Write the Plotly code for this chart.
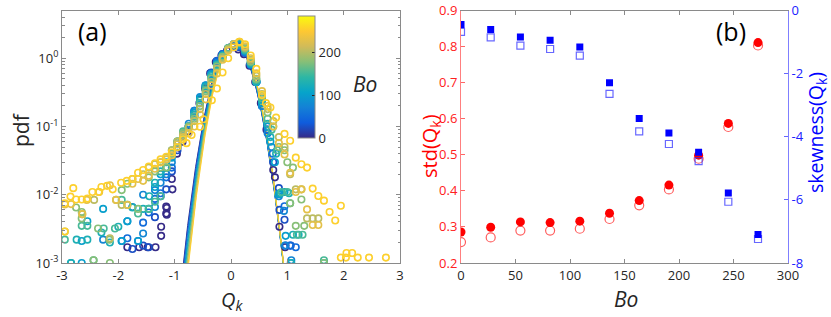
import plotly.graph_objects as go
from plotly.colors import sample_colorscale
import numpy as np

# ---------------- data ----------------
bo_values = [0, 27.25, 54.5, 81.75, 109, 136.25, 163.5, 190.75, 218, 245.25, 272.5]

std_filled = [0.286, 0.299, 0.314, 0.312, 0.316, 0.338, 0.373, 0.416, 0.499, 0.587, 0.811]
std_open = [0.258, 0.271, 0.290, 0.290, 0.295, 0.322, 0.360, 0.404, 0.489, 0.577, 0.803]
skew_filled = [-0.44, -0.60, -0.84, -0.94, -1.16, -2.29, -3.42, -3.88, -4.49, -5.78, -7.10]
skew_open = [-0.68, -0.85, -1.11, -1.22, -1.43, -2.64, -3.83, -4.23, -4.77, -6.06, -7.24]

# Gaussian fit parameters per Bo (mean, std) used for the solid curves of panel (a)
fit_mean = [0.040, 0.045, 0.050, 0.055, 0.060, 0.065, 0.070, 0.075, 0.080, 0.085, 0.090]
fit_sigma = [0.230, 0.229, 0.228, 0.226, 0.225, 0.224, 0.222, 0.221, 0.220, 0.218, 0.217]

# pdf points of Q_k, one list per Bo
q_bo0 = [-1.84, -1.63, -1.48, -1.34, -1.24, -1.24, -1.15, -1.15, -1.14, -1.14, -1.04, -1.05,
         -0.96, -0.86, -0.76, -0.65, -0.56, -0.46, -0.37, -0.27, -0.17, -0.07, 0.03, 0.13, 0.23,
         0.33, 0.43, 0.53, 0.63, 0.75, 0.78, 0.86, 0.96]
p_bo0 = [.0017, .0017, .0017, .0017, .0025, .0034, .0053, .0067, .0064, .0051, .012, .017,
         .04, .06, .085, .14, .22, .36, .6, .88, 1.1, 1.3, 1.45, 1.35, 1.15,
         .78, .45, .22, .09, .023, .018, .0034, .0017]

q_bo27 = [-1.75, -1.56, -1.46, -1.35, -1.25, -1.15, -1.05,
          -0.95, -0.85, -0.75, -0.65, -0.55, -0.45, -0.35, -0.25, -0.15, -0.05, 0.05, 0.15,
          0.25, 0.35, 0.45, 0.55, 0.65, 0.75, 0.85, 0.86, 0.95, 0.97, 1.06]
p_bo27 = [.0016, .0018, .0017, .0047, .0095, .012, .022,
          .045, .07, .1, .16, .25, .38, .62, .92, 1.15, 1.35, 1.5, 1.45,
          1.2, .8, .45, .22, .1, .03, .0125, .006, .0043, .0018, .0018]

q_bo55 = [-1.84, -1.65, -1.56, -1.46, -1.35, -1.25, -1.15, -1.05,
          -0.95, -0.85, -0.75, -0.65, -0.55, -0.45, -0.35, -0.25, -0.15, -0.05, 0.05, 0.15,
          0.25, 0.35, 0.45, 0.55, 0.65, 0.74, 0.86, 0.95, 1.05, 1.15]
p_bo55 = [.0023, .0021, .0039, .0055, .0087, .0105, .018, .025,
          .05, .07, .1, .17, .26, .4, .6, .9, 1.15, 1.4, 1.55, 1.5,
          1.2, .8, .45, .2, .09, .04, .0105, .0068, .0018, .0017]

q_bo82 = [-2.27, -1.94, -1.84, -1.75, -1.56, -1.56, -1.35, -1.35, -1.25, -1.15, -1.05,
          -0.95, -0.85, -0.75, -0.65, -0.55, -0.45, -0.35, -0.25, -0.15, -0.05, 0.05, 0.15,
          0.25, 0.35, 0.45, 0.55, 0.65, 0.72, 0.85, 0.94, 0.96, 1.07]
p_bo82 = [.0022, .0021, .0041, .0066, .0027, .01, .0066, .0117, .015, .02, .03,
          .05, .075, .11, .17, .27, .4, .58, .85, 1.1, 1.4, 1.6, 1.55,
          1.25, .82, .45, .2, .08, .05, .0095, .0058, .0018, .0011]

q_bo109 = [-2.84, -2.65, -2.65, -2.55, -2.27, -1.94, -1.84, -1.65, -1.46, -1.35, -1.25, -1.15, -1.05,
           -0.95, -0.85, -0.75, -0.65, -0.55, -0.45, -0.35, -0.25, -0.15, -0.05, 0.05, 0.15,
           0.25, 0.35, 0.45, 0.55, 0.65, 0.70, 0.78, 0.85, 0.95, 0.97, 1.07]
p_bo109 = [.001, .001, .0021, .0041, .0062, .0021, .0041, .0021, .0062, .013, .02, .025, .035,
           .055, .075, .1, .16, .26, .4, .58, .82, 1.1, 1.4, 1.6, 1.6,
           1.3, .82, .45, .22, .1, .06, .03, .0102, .011, .0025, .001]

q_bo136 = [-2.84, -2.74, -2.55, -2.30, -2.15, -2.00, -1.75, -1.56, -1.45, -1.35, -1.25, -1.15, -1.05,
           -0.95, -0.85, -0.75, -0.65, -0.55, -0.45, -0.35, -0.25, -0.15, -0.05, 0.05, 0.15,
           0.25, 0.35, 0.45, 0.55, 0.65, 0.70, 0.80, 0.88, 1.03, 1.06, 1.10, 1.20, 1.65]
p_bo136 = [.001, .0022, .0022, .0028, .002, .0034, .0065, .0062, .0095, .015, .022, .03, .04,
           .06, .08, .1, .15, .24, .38, .55, .8, 1.1, 1.4, 1.6, 1.65,
           1.3, .85, .45, .24, .11, .07, .04, .0105, .0105, .001, .0026, .0026, .001]

q_bo164 = [-2.95, -2.65, -2.55, -2.44, -2.26, -2.06, -1.94, -1.84, -1.65, -1.46, -1.35, -1.25, -1.15, -1.05,
           -0.95, -0.85, -0.75, -0.65, -0.55, -0.45, -0.35, -0.25, -0.15, -0.05, 0.05, 0.15,
           0.25, 0.35, 0.45, 0.55, 0.65, 0.72, 0.82, 0.90, 1.00, 1.05, 1.17, 1.27, 1.65]
p_bo164 = [.0022, .0035, .0035, .0011, .0032, .0032, .0084, .0071, .0053, .0062, .0079, .0095, .025, .045,
           .06, .085, .1, .14, .22, .35, .52, .78, 1.05, 1.4, 1.6, 1.7,
           1.35, .88, .48, .26, .13, .09, .045, .011, .011, .0075, .0026, .0026, .0011]

q_bo191 = [-2.75, -2.65, -2.65, -2.44, -2.36, -2.16, -2.15, -1.94, -1.84, -1.65, -1.46, -1.35, -1.25, -1.14, -1.05,
           -0.95, -0.85, -0.75, -0.65, -0.55, -0.45, -0.35, -0.25, -0.15, -0.05, 0.05, 0.15,
           0.25, 0.35, 0.45, 0.55, 0.65, 0.75, 0.85, 0.95, 1.00, 1.10, 1.25, 1.05, 1.15, 1.30, 1.65]
p_bo191 = [.0065, .0056, .0045, .0011, .0032, .0022, .001, .0117, .0145, .0062, .018, .022, .025, .025, .04,
           .06, .08, .1, .13, .2, .33, .5, .75, 1.05, 1.4, 1.6, 1.7,
           1.4, .9, .5, .28, .16, .1, .05, .045, .03, .025, .0085, .0075, .0035, .0035, .001]

q_bo218 = [-2.95, -2.64, -2.43, -2.15, -2.04, -1.94, -1.75, -1.56, -1.46, -1.35, -1.25, -1.15, -1.05,
           -0.95, -0.85, -0.75, -0.65, -0.55, -0.45, -0.35, -0.25, -0.15, -0.05, 0.05, 0.15,
           0.25, 0.35, 0.45, 0.55, 0.65, 0.75, 0.85, 0.95, 1.05, 1.15, 1.25, 1.35, 1.45, 1.55]
p_bo218 = [.0029, .0052, .0084, .0023, .0084, .0071, .017, .02, .025, .028, .03, .035, .045,
           .06, .075, .095, .12, .18, .3, .45, .7, 1.0, 1.35, 1.6, 1.7,
           1.45, .95, .55, .3, .18, .12, .07, .05, .02, .012, .012, .0045, .0045, .0045]

q_bo245 = [-2.95, -2.84, -2.64, -2.56, -2.34, -2.15, -2.04, -1.84, -1.75, -1.65, -1.56, -1.46, -1.35, -1.25, -1.14, -1.05,
           -0.95, -0.85, -0.75, -0.65, -0.55, -0.45, -0.35, -0.25, -0.15, -0.05, 0.05, 0.15,
           0.25, 0.35, 0.45, 0.55, 0.65, 0.75, 0.85, 0.95, 1.05, 1.15, 1.25, 1.35, 1.45, 1.55]
p_bo245 = [.0072, .0073, .0052, .0084, .011, .0138, .0084, .0071, .0145, .017, .016, .019, .024, .03, .033, .038,
           .055, .07, .08, .1, .15, .25, .4, .6, .95, 1.3, 1.6, 1.75,
           1.5, 1.0, .6, .33, .2, .1, .057, .039, .021, .011, .012, .0061, .0036, .0036]

q_bo273 = [-2.95, -2.95, -2.85, -2.80, -2.75, -2.65, -2.55, -2.46, -2.35, -2.30, -2.20, -2.10, -1.95, -1.85,
           -1.75, -1.65, -1.56, -1.46, -1.35, -1.25, -1.15, -1.05, -0.95, -0.85,
           -0.79, -0.70, -0.55, -0.49, -0.34, -0.25, -0.15, -0.05, 0.05, 0.15, 0.25, 0.35, 0.45, 0.55,
           0.62, 0.70, 0.80, 0.95, 1.05, 1.15, 1.25, 1.35, 1.45, 1.55, 1.65, 1.75, 1.85, 1.95,
           1.95, 2.04, 2.05, 2.15, 2.25, 2.45, 2.75]
p_bo273 = [.0029, .0075, .0094, .0125, .0085, .0085, .0088, .011, .011, .013, .0135, .012, .015, .016,
           .017, .021, .023, .026, .029, .033, .036, .042, .05, .065,
           .057, .075, .099, .128, .243, .36, .62, 1.0, 1.45, 1.75, 1.6, 1.1, .7, .29,
           .22, .19, .135, .078, .062, .035, .028, .025, .0123, .0096, .0082, .0056, .0042, .0069,
           .0012, .0012, .0014, .0014, .0012, .0012, .0012]

q_lists = [q_bo0, q_bo27, q_bo55, q_bo82, q_bo109, q_bo136, q_bo164, q_bo191, q_bo218, q_bo245, q_bo273]
p_lists = [p_bo0, p_bo27, p_bo55, p_bo82, p_bo109, p_bo136, p_bo164, p_bo191, p_bo218, p_bo245, p_bo273]

x_ticks_a = [-3, -2, -1, 0, 1, 2, 3]
y_ticks_a = [1e-3, 1e-2, 1e-1, 1]
y_ticktext_a = ["10<sup>-3</sup>", "10<sup>-2</sup>", "10<sup>-1</sup>", "10<sup>0</sup>"]
skew_ticks = [-8, -6, -4, -2, 0]
cbar_ticks = [0, 100, 200]

# ---------------- styling ----------------
W, H = 831, 317
FONT = "Open Sans"
TICK = 13
parula = [[0, "#352A87"], [0.125, "#0F5CDD"], [0.25, "#1481D6"], [0.375, "#06A4CA"],
          [0.5, "#2EB7A4"], [0.625, "#87BF77"], [0.75, "#D1BB59"], [0.875, "#FEC832"],
          [1, "#F9FB0E"]]
CMAX_BAR = 284      # colour bar span
CMAX_PTS = 305      # colour normalisation of the markers/curves
AXC = "#8a8a8a"
TXT = "#262626"


def px(x):
    return x / W


def py(y):
    return 1 - y / H


def bo_color(bo):
    return sample_colorscale(parula, [min(bo / CMAX_PTS, 1.0)])[0]


fig = go.Figure()

# Gaussian fit curves (drawn beneath the markers)
xg = np.linspace(-0.95, 1.0, 400)
for bo, mu, sg in zip(bo_values, fit_mean, fit_sigma):
    yg = np.exp(-(xg - mu) ** 2 / (2 * sg ** 2)) / (sg * np.sqrt(2 * np.pi))
    fig.add_trace(go.Scatter(x=xg, y=yg, mode="lines", xaxis="x", yaxis="y",
                             line=dict(color=bo_color(bo), width=1), showlegend=False))

# scatter points of panel (a), one trace per Bo
for bo, qs, ps in zip(bo_values, q_lists, p_lists):
    fig.add_trace(go.Scatter(
        x=qs, y=ps, mode="markers", xaxis="x", yaxis="y", showlegend=False,
        marker=dict(symbol="circle-open", size=6.5, color=bo_color(bo), line=dict(width=1.6))))

# colour bar (carrier trace without visible marks)
fig.add_trace(go.Scatter(
    x=[None], y=[None], mode="markers", xaxis="x", yaxis="y", showlegend=False,
    marker=dict(color=[0], colorscale=parula, cmin=0, cmax=CMAX_BAR, showscale=True,
                colorbar=dict(x=px(298), xanchor="left", xpad=0, ypad=0,
                              y=py(77), yanchor="middle", len=122 / H, lenmode="fraction",
                              thickness=17, outlinewidth=1, outlinecolor=AXC,
                              tickvals=cbar_ticks, ticks="inside", ticklen=3,
                              tickcolor=TXT,
                              tickfont=dict(family=FONT, size=TICK, color=TXT)))))

# panel (b)
fig.add_trace(go.Scatter(x=bo_values, y=std_open, mode="markers", xaxis="x2", yaxis="y2",
                         marker=dict(symbol="circle-open", size=9, color="rgba(255,40,40,0.75)",
                                     line=dict(width=1.2)), showlegend=False))
fig.add_trace(go.Scatter(x=bo_values, y=std_filled, mode="markers", xaxis="x2", yaxis="y2",
                         marker=dict(symbol="circle", size=9, color="#ff0000"), showlegend=False))
fig.add_trace(go.Scatter(x=bo_values, y=skew_open, mode="markers", xaxis="x2", yaxis="y3",
                         marker=dict(symbol="square-open", size=7, color="rgba(40,40,255,0.7)",
                                     line=dict(width=1.2)), showlegend=False))
fig.add_trace(go.Scatter(x=bo_values, y=skew_filled, mode="markers", xaxis="x2", yaxis="y3",
                         marker=dict(symbol="square", size=7, color="#0000ff"), showlegend=False))

ydom = [py(263), py(10.5)]
common = dict(showgrid=False, zeroline=False, showline=True, ticks="inside", ticklen=4,
              automargin=False)

fig.update_layout(
    width=W, height=H, margin=dict(l=0, r=0, t=0, b=0, autoexpand=False), autosize=False,
    paper_bgcolor="white", plot_bgcolor="white",
    font=dict(family=FONT, size=TICK, color=TXT),
    xaxis=dict(domain=[px(62), px(400)], range=[-3, 3], anchor="y",
               tickvals=x_ticks_a, ticktext=[str(v) for v in x_ticks_a],
               linecolor=AXC, tickcolor=AXC, mirror="ticks",
               tickfont=dict(family=FONT, size=TICK, color=TXT), **common),
    yaxis=dict(domain=ydom, type="log", range=[-3, 0.7], anchor="x",
               tickvals=y_ticks_a, ticktext=y_ticktext_a,
               linecolor=AXC, tickcolor=AXC, mirror="ticks",
               minor=dict(ticks="inside", ticklen=2.5, tickcolor=AXC, dtick="D1"),
               tickfont=dict(family=FONT, size=TICK, color=TXT), **common),
    xaxis2=dict(domain=[px(461), px(788)], range=[0, 300], anchor="y2", dtick=50,
                linecolor=AXC, tickcolor=AXC, mirror="ticks",
                tickfont=dict(family=FONT, size=TICK, color=TXT), **common),
    yaxis2=dict(domain=ydom, range=[0.2, 0.9], anchor="x2", dtick=0.1, tickformat=".1f",
                linecolor="rgba(255,0,0,0.5)", tickcolor="rgba(255,0,0,0.6)",
                tickfont=dict(family=FONT, size=TICK, color="#ff2020"), **common),
    yaxis3=dict(range=[-8, 0], anchor="x2", overlaying="y2", side="right",
                tickvals=skew_ticks, ticktext=[str(v) for v in skew_ticks],
                linecolor="rgba(0,0,255,0.5)", tickcolor="rgba(0,0,255,0.6)",
                tickfont=dict(family=FONT, size=TICK, color="#2020ff"), **common),
)

ann = [
    dict(x=px(92), y=py(31), text="(a)", font=dict(size=25, color="black")),
    dict(x=px(731), y=py(31), text="(b)", font=dict(size=25, color="black")),
    dict(x=px(365), y=py(84), text="<i>Bo</i>", font=dict(size=21, color=TXT)),
    dict(x=px(21), y=py(130), text="pdf", textangle=-90, font=dict(size=21, color=TXT)),
    dict(x=px(232), y=py(300), text="<i>Q</i><sub><i>k</i></sub>", font=dict(size=20, color=TXT)),
    dict(x=px(626), y=py(299), text="<i>Bo</i>", font=dict(size=21, color=TXT)),
    dict(x=px(430), y=py(146), text="std(Q<sub>k</sub>)", textangle=-90,
         font=dict(size=20, color="#ff0000")),
    dict(x=px(816), y=py(133), text="skewness(Q<sub>k</sub>)", textangle=-90,
         font=dict(size=19.5, color="#0000ff")),
]
for a in ann:
    a.update(xref="paper", yref="paper", showarrow=False, xanchor="center", yanchor="middle")
    a["font"]["family"] = FONT
fig.update_layout(annotations=ann)

# the page must not add its default 8px body margin around the fixed-size figure
fig.write_html("out.html", config={"displayModeBar": False},
               post_script="document.body.style.margin='0px';"
                           "document.body.style.overflow='hidden';")
